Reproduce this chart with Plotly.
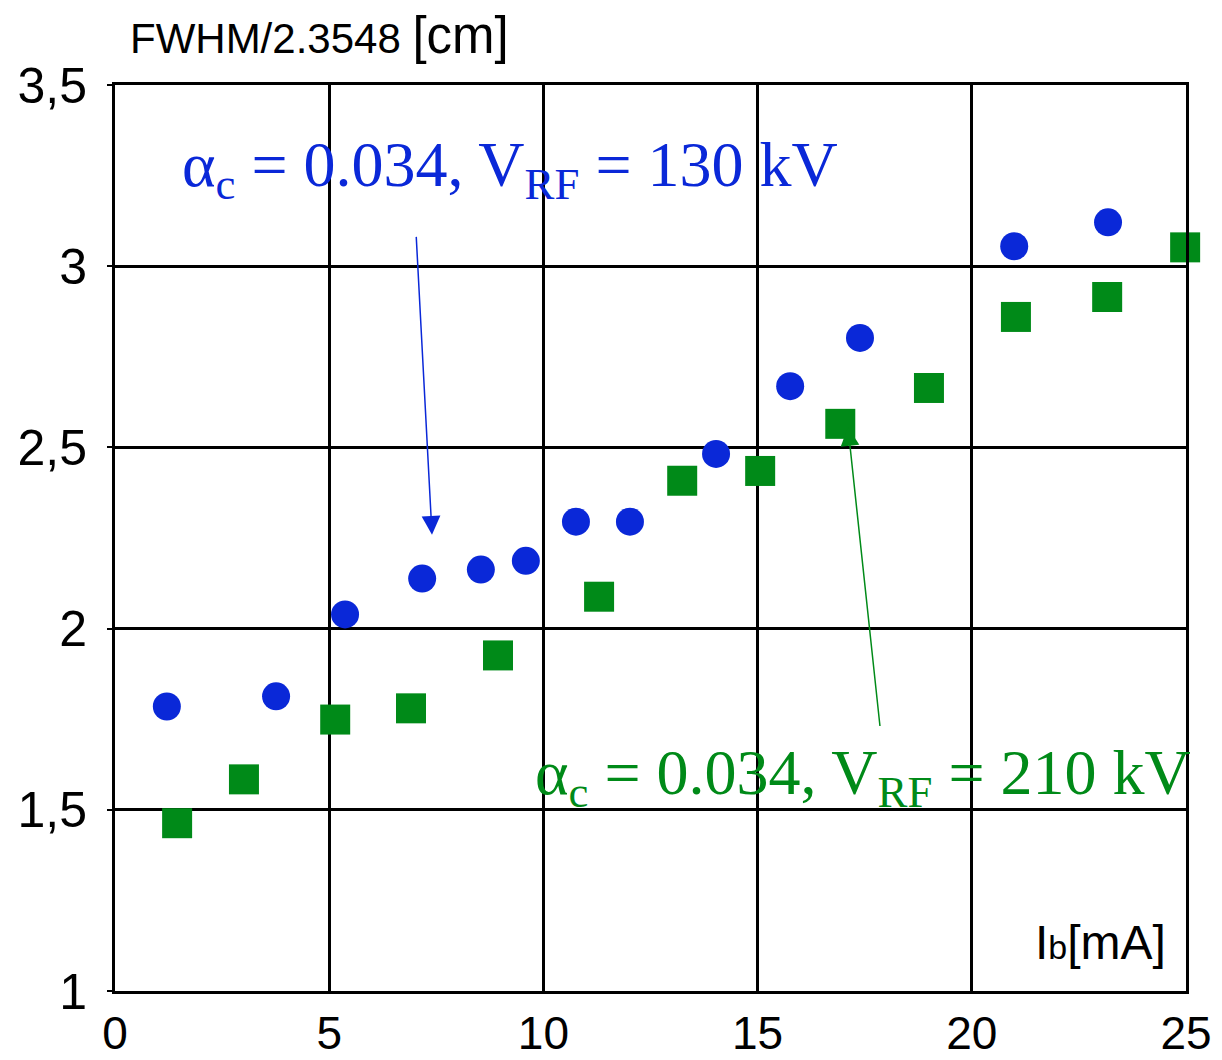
import plotly.graph_objects as go

# Blue series: alpha_c = 0.034, V_RF = 130 kV
blue_x = [1.21, 3.76, 5.37, 7.17, 8.54, 9.59, 10.76, 12.02, 14.03, 15.76, 17.39, 20.99, 23.18]
blue_y = [1.785, 1.813, 2.039, 2.138, 2.163, 2.187, 2.295, 2.295, 2.482, 2.669, 2.802, 3.055, 3.121]

# Green series: alpha_c = 0.034, V_RF = 210 kV
green_x = [1.45, 3.01, 5.14, 6.91, 8.94, 11.30, 13.24, 15.06, 16.93, 19.00, 21.03, 23.16, 24.98]
green_y = [1.463, 1.584, 1.749, 1.780, 1.926, 2.088, 2.408, 2.435, 2.565, 2.664, 2.860, 2.915, 3.052]

x_ticks = [0, 5, 10, 15, 20, 25]
x_tick_text = ["0", "5", "10", "15", "20", "25"]
y_ticks = [1, 1.5, 2, 2.5, 3, 3.5]
y_tick_text = ["1", "1,5", "2", "2,5", "3", "3,5"]

BLUE = "#0a28d8"
GREEN = "#008a18"

fig = go.Figure()
fig.add_trace(go.Scatter(x=blue_x, y=blue_y, mode="markers",
                         marker=dict(symbol="circle", size=28, color=BLUE, line=dict(width=0)),
                         showlegend=False, cliponaxis=False))
fig.add_trace(go.Scatter(x=green_x, y=green_y, mode="markers",
                         marker=dict(symbol="square", size=30, color=GREEN, line=dict(width=0)),
                         showlegend=False, cliponaxis=False))

serif = "Liberation Serif, Times New Roman, serif"
sans = "Liberation Sans, Arial, sans-serif"

annotations = [
    dict(x=1.52, y=3.268, xref="x", yref="y", xanchor="left", yanchor="middle",
         text="α<sub>c</sub> = 0.034, V<sub>RF</sub> = 130 kV", showarrow=False,
         font=dict(family=serif, size=64, color=BLUE)),
    dict(x=9.76, y=1.59, xref="x", yref="y", xanchor="left", yanchor="middle",
         text="α<sub>c</sub> = 0.034, V<sub>RF</sub> = 210 kV", showarrow=False,
         font=dict(family=serif, size=64, color=GREEN)),
    # arrows
    dict(x=7.40, y=2.259, ax=7.03, ay=3.085, xref="x", yref="y", axref="x", ayref="y",
         text="", showarrow=True, arrowhead=2, arrowsize=2.5, arrowwidth=1.5, arrowcolor=BLUE),
    dict(x=17.11, y=2.556, ax=17.86, ay=1.727, xref="x", yref="y", axref="x", ayref="y",
         text="", showarrow=True, arrowhead=2, arrowsize=2.5, arrowwidth=1.5, arrowcolor=GREEN),
    # axis titles
    dict(x=24.58, y=1.135, xref="x", yref="y", xanchor="right", yanchor="middle",
         text="I<span style='font-size:34px'>b</span>[mA]", showarrow=False,
         font=dict(family=sans, size=48, color="black")),
    dict(x=0.012, y=1.055, xref="paper", yref="paper", xanchor="left", yanchor="middle",
         text="FWHM/2.3548 <span style='font-size:51px'>[cm]</span>", showarrow=False,
         font=dict(family=sans, size=42, color="black")),
]

fig.update_layout(
    width=1222, height=1060,
    margin=dict(l=115, r=36, t=85, b=69, autoexpand=False),
    paper_bgcolor="white", plot_bgcolor="white",
    annotations=annotations,
    showlegend=False,
)
fig.update_xaxes(range=[0, 25], tickvals=x_ticks, ticktext=x_tick_text,
                 showgrid=True, gridcolor="black", gridwidth=2.5,
                 showline=True, linecolor="black", linewidth=3, mirror=True,
                 ticks="inside", ticklen=5, tickcolor="black", tickwidth=2,
                 ticklabelstandoff=0, automargin=False,
                 tickfont=dict(family=sans, size=46, color="black"), zeroline=False)
fig.update_yaxes(range=[1, 3.5], tickvals=y_ticks, ticktext=y_tick_text,
                 showgrid=True, gridcolor="black", gridwidth=2.5,
                 showline=True, linecolor="black", linewidth=3, mirror=True,
                 ticks="outside", ticklen=5, tickcolor="black", tickwidth=2,
                 ticklabelstandoff=10, automargin=False,
                 tickfont=dict(family=sans, size=50, color="black"), zeroline=False)

fig.write_html("out.html")
